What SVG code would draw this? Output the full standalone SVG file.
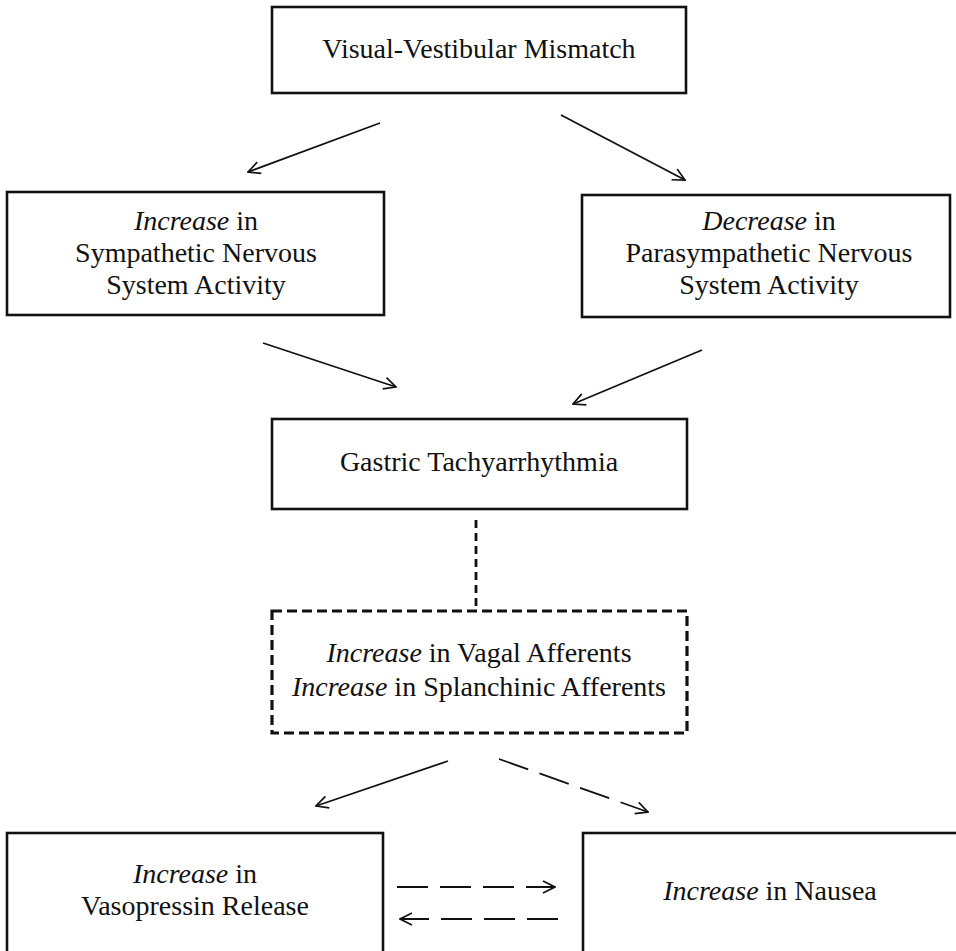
<svg xmlns="http://www.w3.org/2000/svg" width="956" height="951" viewBox="0 0 956 951">
<style>
.box{fill:#fff;stroke:#111;stroke-width:2.6}
.dbox{fill:#fff;stroke:#111;stroke-width:3.2;stroke-dasharray:10 5}
.t{font-family:"Liberation Serif","Times New Roman",serif;font-size:28px;fill:#111;text-anchor:middle}
.i{font-style:italic}
.c{stroke:#111;stroke-width:1.8;fill:none}
.d{stroke-dasharray:31 12}
.v{stroke-width:2.8;stroke-dasharray:8 5}
</style>
<defs>
<marker id="ah" viewBox="0 0 14 14" refX="13" refY="7" markerWidth="14" markerHeight="14" markerUnits="userSpaceOnUse" orient="auto">
<path d="M1,1 L13,7 L1,13" fill="none" stroke="#111" stroke-width="1.7"/>
</marker>
</defs>
<rect width="956" height="951" fill="#fff"/>
<g id="connectors">
<line class="c" x1="380" y1="123" x2="248" y2="172" marker-end="url(#ah)"/>
<line class="c" x1="561" y1="115" x2="685" y2="180" marker-end="url(#ah)"/>
<line class="c" x1="263" y1="343" x2="396" y2="387" marker-end="url(#ah)"/>
<line class="c" x1="702" y1="350" x2="573" y2="404" marker-end="url(#ah)"/>
<line class="c v" x1="476" y1="520" x2="476" y2="611"/>
<line class="c" x1="448" y1="761" x2="316" y2="806" marker-end="url(#ah)"/>
<line class="c d" x1="499" y1="759" x2="648" y2="812" marker-end="url(#ah)"/>
<line class="c d" x1="397" y1="887" x2="555" y2="887" marker-end="url(#ah)"/>
<line class="c d" x1="558" y1="919" x2="400" y2="919" marker-end="url(#ah)"/>
</g>
<g id="node-mismatch">
<rect class="box" x="272" y="7" width="414" height="86"/>
<text class="t" x="479" y="58">Visual-Vestibular Mismatch</text>
</g>
<g id="node-sympathetic">
<rect class="box" x="7" y="192" width="377" height="123"/>
<text class="t" x="196" y="230"><tspan class="i">Increase</tspan> in</text>
<text class="t" x="196" y="262">Sympathetic Nervous</text>
<text class="t" x="196" y="294">System Activity</text>
</g>
<g id="node-parasympathetic">
<rect class="box" x="582" y="195" width="368" height="122"/>
<text class="t" x="769" y="230"><tspan class="i">Decrease</tspan> in</text>
<text class="t" x="769" y="262">Parasympathetic Nervous</text>
<text class="t" x="769" y="294">System Activity</text>
</g>
<g id="node-gastric">
<rect class="box" x="272" y="419" width="415" height="90"/>
<text class="t" x="479" y="471">Gastric Tachyarrhythmia</text>
</g>
<g id="node-afferents">
<rect class="dbox" x="272" y="611" width="415" height="122"/>
<text class="t" x="479" y="662"><tspan class="i">Increase</tspan> in Vagal Afferents</text>
<text class="t" x="479" y="696"><tspan class="i">Increase</tspan> in Splanchinic Afferents</text>
</g>
<g id="node-vasopressin">
<rect class="box" x="7" y="833" width="376" height="140"/>
<text class="t" x="195" y="883"><tspan class="i">Increase</tspan> in</text>
<text class="t" x="195" y="915">Vasopressin Release</text>
</g>
<g id="node-nausea">
<rect class="box" x="583" y="833" width="390" height="140"/>
<text class="t" x="770" y="900"><tspan class="i">Increase</tspan> in Nausea</text>
</g>
</svg>
